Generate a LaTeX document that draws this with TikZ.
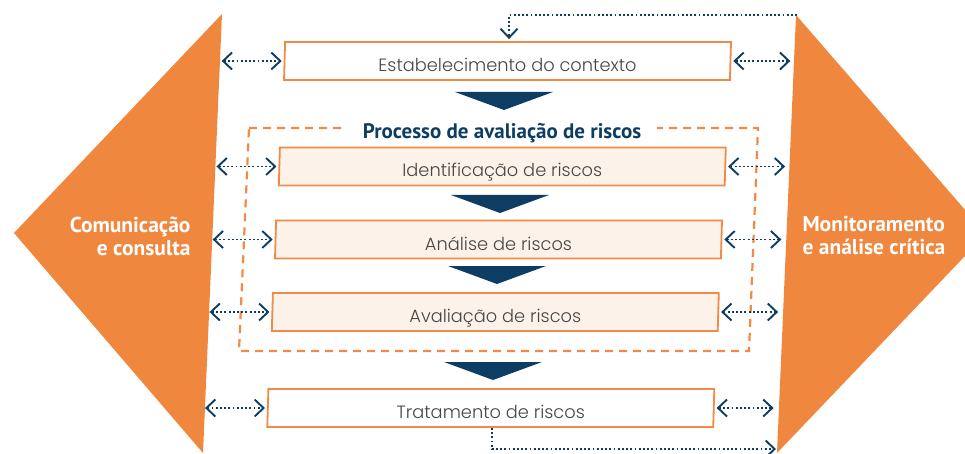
\documentclass[tikz,border=0pt]{standalone}
\usepackage{fontspec}
\setmainfont{PT Sans}
\newfontfamily\boxfont{Poppins}[UprightFont={* Light}]
\usepackage{tikz}
\usetikzlibrary{arrows.meta,shapes.geometric,positioning}
\definecolor{wingorange}{RGB}{240,135,62}
\definecolor{lineorange}{RGB}{240,138,70}
\definecolor{peach}{RGB}{253,242,233}
\definecolor{navy}{RGB}{14,61,99}
\definecolor{textgray}{RGB}{70,70,70}
\tikzset{>=stealth}
\tikzset{%
    stage/.style={%
        trapezium, trapezium left angle=87, trapezium right angle=93,
        trapezium stretches body, draw=lineorange, line width=1.8pt,
        fill=white, minimum width=447pt, minimum height=38pt, inner sep=0pt,
        text height=21pt, text depth=0pt, text=textgray,
        font=\boxfont\fontsize{17.8}{20}\selectfont
    },
    substage/.style={stage, fill=peach},
    link/.style={%
        navy, line width=1.9pt, dash pattern=on 1.9pt off 2.3pt,
        {Straight Barb[length=9pt,width=17pt]}-{Straight Barb[length=9pt,width=17pt]}
    },
    feedback/.style={link, -{Straight Barb[length=9pt,width=17pt]}},
    wingtext/.style={white, font=\bfseries\fontsize{21.5}{23}\selectfont}
}

\begin{document}
\begin{tikzpicture}[x=1pt,y=-1pt]
    \def\leftwing{(222,14) -- (14,233) -- (203,453) -- cycle};
    \def\rightwing{(796,15) -- (986,234) -- (777,453) -- cycle};
    \clip (0,0) rectangle (965,454);
\fill[wingorange] \leftwing;
\fill[wingorange] \rightwing;
\node[wingtext, align=right, anchor=east] (comm) at (194,236) {Comunicação\\e consulta};
\node[wingtext, align=left, anchor=west] (moni) at (799,236) {Monitoramento\\e análise crítica};
% dashed frame of the assessment
\draw[lineorange, line width=2.2pt, dash pattern=on 8pt off 6pt] (249,128) -- (758,128) -- (749,351) -- (239,351) -- cycle;
\node[fill=white, inner xsep=16pt, inner ysep=2pt, text=navy, anchor=base,
      font=\bfseries\fontsize{21}{24}\selectfont] (title) at (502,139) {Processo de avaliação de riscos};
% stages
\node[stage] (estab) at (507.5,61) {Estabelecimento do contexto};
\node[substage] (ident) at (502.3,166.5) {Identificação de riscos};
\node[substage] (analise) at (498.5,239.5) {Análise de riscos};
\node[substage] (aval) at (495.3,312) {Avaliação de riscos};
\node[stage] (trat) at (490.8,408) {Tratamento de riscos};
% down arrows
\fill[navy] (455,92) -- (553,92) -- (504,110) -- cycle;
\fill[navy] (451,195) -- (549,195) -- (500,213) -- cycle;
\fill[navy] (448,266) -- (546,266) -- (497,284) -- cycle;
\fill[navy] (444,362) -- (542,362) -- (493,380) -- cycle;
% links to the wings
\draw[link] ([xshift=-62pt]estab.west) -- ([xshift=-2pt]estab.west);
\draw[link] ([xshift=-62pt]ident.west) -- ([xshift=-2pt]ident.west);
\draw[link] ([xshift=-62pt]analise.west) -- ([xshift=-2pt]analise.west);
\draw[link] ([xshift=-62pt]aval.west) -- ([xshift=-2pt]aval.west);
\draw[link] ([xshift=-62pt]trat.west) -- ([xshift=-2pt]trat.west);
\draw[link] ([xshift=2pt]estab.east) -- ([xshift=59pt]estab.east);
\draw[link] ([xshift=2pt]ident.east) -- ([xshift=59pt]ident.east);
\draw[link] ([xshift=2pt]analise.east) -- ([xshift=59pt]analise.east);
\draw[link] ([xshift=2pt]aval.east) -- ([xshift=59pt]aval.east);
\draw[link] ([xshift=2pt]trat.east) -- ([xshift=59pt]trat.east);
% feedback loop
\coordinate (mon-top) at (797,15);
\coordinate (mon-bot) at (776,449);
\draw[feedback] (mon-top) -| ([xshift=1.5pt,yshift=2pt]estab.north);
\draw[feedback] ([xshift=1pt]trat.south) |- (mon-bot);
\end{tikzpicture}
\end{document}
